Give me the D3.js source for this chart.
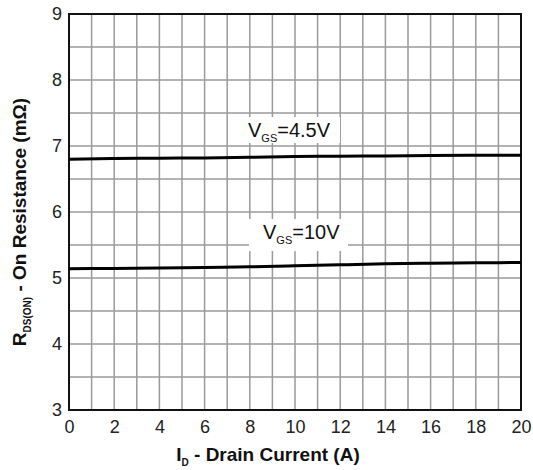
<!DOCTYPE html>
<html>
<head>
<meta charset="utf-8">
<script src="https://cdn.jsdelivr.net/npm/d3@7"></script>
<style>
  html, body { margin: 0; padding: 0; background: #fff; }
  svg { display: block; font-family: "Liberation Sans", Arial, sans-serif; }
</style>
</head>
<body>
<svg id="chart" width="533" height="470"></svg>
<script>
// Drain current (A) sample points
const drainCurrent = [0, 2, 4, 6, 8, 10, 12, 14, 16, 18, 20];
// On resistance (mΩ) for each gate drive
const rdsVgs45 = [6.80, 6.81, 6.815, 6.82, 6.83, 6.84, 6.845, 6.85, 6.855, 6.86, 6.86];
const rdsVgs10 = [5.14, 5.145, 5.15, 5.16, 5.17, 5.185, 5.20, 5.215, 5.225, 5.23, 5.235];
const xTicks = [0, 2, 4, 6, 8, 10, 12, 14, 16, 18, 20];
const yTicks = [3, 4, 5, 6, 7, 8, 9];

const svg = d3.select("#chart");
const plotL = 69, plotR = 521, plotT = 14, plotB = 410;

const x = d3.scaleLinear().domain([0, 20]).range([plotL, plotR]);
const y = d3.scaleLinear().domain([3, 9]).range([plotB, plotT]);

// grid: every 1 A and every 0.5 mΩ
const grid = svg.append("g").attr("stroke", "#9a9a9a").attr("stroke-width", 1.5);
d3.range(1, 20, 1).forEach(v => {
  grid.append("line").attr("x1", x(v)).attr("x2", x(v)).attr("y1", plotT).attr("y2", plotB);
});
d3.range(3.5, 9, 0.5).forEach(v => {
  grid.append("line").attr("x1", plotL).attr("x2", plotR).attr("y1", y(v)).attr("y2", y(v));
});

// label boxes mask the grid behind the curve labels
const boxes = [
  { x0: 245, x1: 340, y0: 117, y1: 143 },
  { x0: 249, x1: 348, y0: 219, y1: 251 }
];
svg.append("g").selectAll("rect").data(boxes).join("rect")
  .attr("x", d => d.x0).attr("y", d => d.y0)
  .attr("width", d => d.x1 - d.x0).attr("height", d => d.y1 - d.y0)
  .attr("fill", "#fff");

// frame
svg.append("rect").attr("x", plotL).attr("y", plotT)
  .attr("width", plotR - plotL).attr("height", plotB - plotT)
  .attr("fill", "none").attr("stroke", "#111").attr("stroke-width", 2);

// axes (labels only)
const xAxis = d3.axisBottom(x).tickValues(xTicks).tickFormat(d3.format("d"))
  .tickSize(0).tickPadding(10);
const gx = svg.append("g").attr("transform", `translate(0,${plotB})`).call(xAxis);
gx.select(".domain").remove();
gx.selectAll("text").attr("font-size", 18).attr("fill", "#222")
  .attr("font-family", "Liberation Sans, Arial, sans-serif");

const yAxis = d3.axisLeft(y).tickValues(yTicks).tickFormat(d3.format("d"))
  .tickSize(0).tickPadding(7);
const gy = svg.append("g").attr("transform", `translate(${plotL},0)`).call(yAxis);
gy.select(".domain").remove();
gy.selectAll("text").attr("font-size", 18).attr("fill", "#222")
  .attr("font-family", "Liberation Sans, Arial, sans-serif");

// curves
const line = d3.line().x((d, i) => x(drainCurrent[i])).y(d => y(d)).curve(d3.curveMonotoneX);
[rdsVgs45, rdsVgs10].forEach(series => {
  svg.append("path").datum(series).attr("d", line)
    .attr("fill", "none").attr("stroke", "#000").attr("stroke-width", 3);
});

// curve labels
function vgsLabel(xp, yp, value) {
  const t = svg.append("text").attr("x", xp).attr("y", yp)
    .attr("font-size", 20).attr("fill", "#111");
  t.append("tspan").text("V");
  t.append("tspan").attr("font-size", 11).attr("dy", 5).text("GS");
  t.append("tspan").attr("dy", -5).text("=" + value);
}
vgsLabel(248, 137, "4.5V");
vgsLabel(263, 239, "10V");

// axis titles
const xt = svg.append("text").attr("x", 268).attr("y", 461)
  .attr("text-anchor", "middle").attr("font-size", 19).attr("font-weight", "bold").attr("fill", "#111");
xt.append("tspan").text("I");
xt.append("tspan").attr("font-size", 10).attr("dy", 5).text("D");
xt.append("tspan").attr("dy", -5).text(" - Drain Current (A)");

const yt = svg.append("text").attr("transform", "translate(26,222) rotate(-90)")
  .attr("text-anchor", "middle").attr("font-size", 19).attr("font-weight", "bold").attr("fill", "#111");
yt.append("tspan").text("R");
yt.append("tspan").attr("font-size", 10).attr("dy", 5).text("DS(ON)");
yt.append("tspan").attr("dy", -5).text(" - On Resistance (mΩ)");
</script>
</body>
</html>
